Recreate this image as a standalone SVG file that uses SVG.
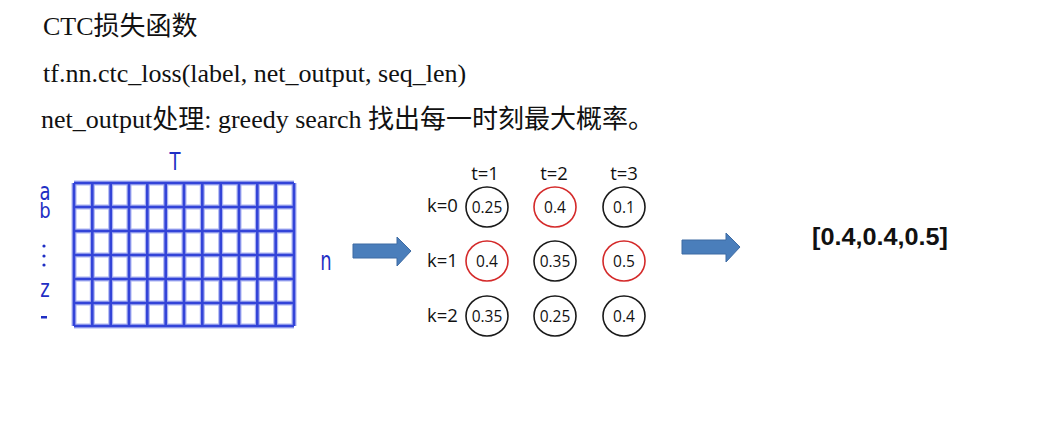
<svg xmlns="http://www.w3.org/2000/svg" width="1044" height="432" viewBox="0 0 1044 432">
<style>
.title{font-family:"Liberation Serif","Noto Sans CJK SC",serif;font-size:26px;fill:#111}
.lbl{font-family:"Open Sans","Liberation Sans",sans-serif;font-size:18.5px;fill:#111}
.val{font-family:"Open Sans","Liberation Sans",sans-serif;font-size:15.5px;fill:#111;text-anchor:middle}
.blk{fill:none;stroke:#1a1a1a;stroke-width:1.6}
.red{fill:none;stroke:#d42a2a;stroke-width:1.6}
.gl{fill:none;stroke:#3344d8;stroke-width:2.6}
.glow{fill:none;stroke:#aab2f2;stroke-width:5}
.blue{font-family:"DejaVu Sans","Liberation Sans",sans-serif;font-size:20px;fill:#1f2fc4;text-anchor:middle}
.arrow{fill:#4a7ebb;stroke:#3d6ba3;stroke-width:1}
</style>
<rect width="1044" height="432" fill="#fff"/>
<g id="header">
<text class="title" x="43" y="35">CTC损失函数</text>
<text class="title" x="43" y="82">tf.nn.ctc_loss(label, net_output, seq_len)</text>
<text class="title" x="41" y="128">net_output处理: greedy search 找出每一时刻最大概率。</text>
</g>
<g id="matrix">
<path class="glow" d="M74 183H294M74 207H294M74 231H294M74 255H294M74 279H294M74 303H294M74 326H294M74 183V326M92.3 183V326M110.7 183V326M129 183V326M147.3 183V326M165.7 183V326M184 183V326M202.3 183V326M220.7 183V326M239 183V326M257.3 183V326M275.7 183V326M294 183V326"/>
<path class="gl" d="M74 183H294M74 207H294M74 231H294M74 255H294M74 279H294M74 303H294M74 326H294M74 183V326M92.3 183V326M110.7 183V326M129 183V326M147.3 183V326M165.7 183V326M184 183V326M202.3 183V326M220.7 183V326M239 183V326M257.3 183V326M275.7 183V326M294 183V326"/>
<text class="blue" transform="translate(175,170) scale(0.9,1.2)">T</text>
<text class="blue" transform="translate(326,270) scale(0.9,1.3)">n</text>
<text class="blue" transform="translate(45,200) scale(0.9,1.25)">a</text>
<text class="blue" transform="translate(45,218) scale(0.9,1.1)">b</text>
<circle cx="44" cy="246" r="1.6" fill="#1f2fc4"/>
<circle cx="44" cy="256" r="1.6" fill="#1f2fc4"/>
<circle cx="44" cy="265" r="1.6" fill="#1f2fc4"/>
<text class="blue" transform="translate(45,297) scale(0.9,1.2)">z</text>
<rect x="41" y="316" width="6" height="2.5" fill="#1f2fc4"/>
</g>
<g id="connectors">
<polygon class="arrow" points="353,244 397,244 397,237 411,251 397,266 397,258 353,258"/>
<polygon class="arrow" points="682,240 726,240 726,233 740,247 726,262 726,254 682,254"/>
</g>
<g id="lattice">
<text class="lbl" x="485" y="180" text-anchor="middle">t=1</text>
<text class="lbl" x="554" y="180" text-anchor="middle">t=2</text>
<text class="lbl" x="624" y="180" text-anchor="middle">t=3</text>
<text class="lbl" x="427" y="212">k=0</text>
<text class="lbl" x="427" y="267">k=1</text>
<text class="lbl" x="427" y="322">k=2</text>
<g id="n00"><ellipse class="blk" cx="487" cy="207" rx="21" ry="20"/><text class="val" x="487" y="212.5">0.25</text></g>
<g id="n01"><ellipse class="red" cx="555" cy="207" rx="21" ry="20"/><text class="val" x="555" y="212.5">0.4</text></g>
<g id="n02"><ellipse class="blk" cx="624" cy="207" rx="21" ry="20"/><text class="val" x="624" y="212.5">0.1</text></g>
<g id="n10"><ellipse class="red" cx="487" cy="261" rx="21" ry="20"/><text class="val" x="487" y="266.5">0.4</text></g>
<g id="n11"><ellipse class="blk" cx="555" cy="261" rx="21" ry="20"/><text class="val" x="555" y="266.5">0.35</text></g>
<g id="n12"><ellipse class="red" cx="624" cy="261" rx="21" ry="20"/><text class="val" x="624" y="266.5">0.5</text></g>
<g id="n20"><ellipse class="blk" cx="487" cy="316" rx="21" ry="20"/><text class="val" x="487" y="321.5">0.35</text></g>
<g id="n21"><ellipse class="blk" cx="555" cy="316" rx="21" ry="20"/><text class="val" x="555" y="321.5">0.25</text></g>
<g id="n22"><ellipse class="blk" cx="624" cy="316" rx="21" ry="20"/><text class="val" x="624" y="321.5">0.4</text></g>
</g>
<g id="result">
<text x="812" y="245" font-family="Liberation Sans, sans-serif" font-weight="bold" font-size="23.5" fill="#111" textLength="136" lengthAdjust="spacingAndGlyphs">[0.4,0.4,0.5]</text>
</g>
</svg>
